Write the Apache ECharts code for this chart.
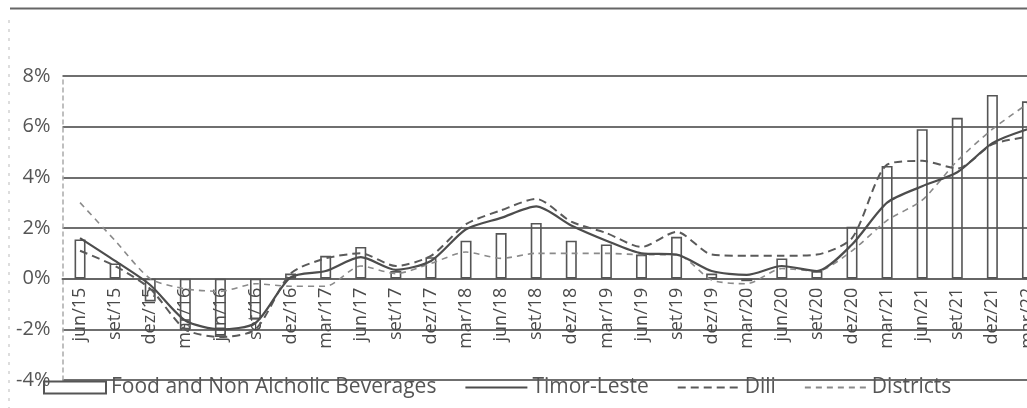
<!DOCTYPE html>
<html>
<head>
<meta charset="utf-8">
<script src="https://cdn.jsdelivr.net/npm/echarts@6/dist/echarts.min.js"></script>
<style>
  html, body { margin: 0; padding: 0; background: #fff; }
  #chart { width: 1027px; height: 408px; }
</style>
</head>
<body>
<div id="chart"></div>
<script>
// Quarterly periods (month/year, Portuguese month abbreviations)
const quarters = ['jun/15','set/15','dez/15','mar/16','jun/16','set/16','dez/16','mar/17','jun/17','set/17','dez/17',
  'mar/18','jun/18','set/18','dez/18','mar/19','jun/19','set/19','dez/19','mar/20','jun/20','set/20','dez/20',
  'mar/21','jun/21','set/21','dez/21','mar/22'];

// Annual inflation, %
const foodBeverages = [1.55, 0.6, -0.9, -2.0, -2.3, -1.6, 0.2, 0.9, 1.25, 0.3, 0.85, 1.5, 1.8, 2.2, 1.5, 1.35,
  0.95, 1.65, 0.2, -0.1, 0.8, 0.3, 2.05, 4.45, 5.9, 6.35, 7.25, 7.0];
const timorLeste = [1.6, 0.7, -0.25, -1.65, -2.0, -1.75, 0.05, 0.3, 0.85, 0.35, 0.7, 1.95, 2.4, 2.85, 2.1, 1.5,
  1.0, 0.95, 0.3, 0.15, 0.5, 0.3, 1.35, 3.0, 3.65, 4.2, 5.35, 5.9];
const dili = [1.1, 0.5, -0.4, -2.0, -2.3, -2.0, 0.2, 0.8, 1.0, 0.5, 0.9, 2.15, 2.7, 3.15, 2.25, 1.8,
  1.25, 1.85, 0.95, 0.9, 0.9, 0.95, 1.6, 4.5, 4.65, 4.35, 5.3, 5.6];
const districts = [3.0, 1.5, 0.0, -0.4, -0.5, -0.2, -0.3, -0.3, 0.5, 0.2, 0.6, 1.05, 0.8, 1.0, 1.0, 1.0,
  0.95, 0.95, -0.05, -0.2, 0.4, 0.3, 1.1, 2.3, 3.1, 4.65, 5.9, 6.9];

const FONT = '"Open Sans", "Liberation Sans", sans-serif';
const INK = '#555';

// plot area geometry and value range
const GRID_TOP = 76, GRID_BOTTOM = 28, CHART_H = 408;
const Y_MIN = -4, Y_MAX = 8;
const plotH = CHART_H - GRID_TOP - GRID_BOTTOM;
// the category axis sits on the 0% line
const zeroLift = plotH * (0 - Y_MIN) / (Y_MAX - Y_MIN);

const chart = echarts.init(document.getElementById('chart'), null, { renderer: 'canvas' });

const hiddenMarker = { opacity: 0 };

chart.setOption({
  animation: false,
  backgroundColor: '#fff',
  textStyle: { fontFamily: FONT, color: INK },
  grid: {
    left: 62.5, right: -18, top: GRID_TOP, bottom: GRID_BOTTOM,
    containLabel: false, outerBoundsMode: 'none'
  },
  legend: {
    left: 38, top: 372,
    itemWidth: 62, itemHeight: 12, itemGap: 28,
    textStyle: { fontFamily: FONT, fontSize: 21, color: INK },
    data: [
      { name: 'Food and Non Alcholic Beverages', icon: 'rect' },
      { name: 'Timor-Leste', itemStyle: hiddenMarker },
      { name: 'Dili', itemStyle: hiddenMarker },
      { name: 'Districts', itemStyle: hiddenMarker }
    ]
  },
  xAxis: {
    type: 'category',
    data: quarters,
    boundaryGap: true,
    offset: -zeroLift,
    axisLine: { onZero: false, lineStyle: { color: '#666', width: 2 } },
    axisTick: { show: false },
    axisLabel: {
      interval: 0, rotate: 90, margin: 9,
      fontFamily: FONT, fontSize: 18, color: '#4a4a4a'
    },
    splitLine: { show: false }
  },
  yAxis: {
    type: 'value',
    min: Y_MIN, max: Y_MAX, interval: 2,
    axisLine: { show: true, lineStyle: { color: '#aaa', width: 1.5, type: [4, 4] } },
    axisTick: { show: false },
    axisLabel: {
      formatter: v => v + '%',
      fontFamily: FONT, fontSize: 20, color: INK, margin: 12
    },
    splitLine: { lineStyle: { color: '#6f6f6f', width: 1.8 } }
  },
  series: [
    {
      name: 'Food and Non Alcholic Beverages',
      type: 'bar',
      data: foodBeverages,
      barWidth: 11,
      itemStyle: { color: 'rgba(255,255,255,0)', borderColor: '#555', borderWidth: 1.6 },
      z: 2
    },
    {
      name: 'Timor-Leste',
      type: 'line',
      data: timorLeste,
      smooth: 0.25,
      symbol: 'none',
      lineStyle: { color: '#4d4d4d', width: 2.2 },
      itemStyle: { color: '#4d4d4d' },
      z: 5
    },
    {
      name: 'Dili',
      type: 'line',
      data: dili,
      smooth: 0.25,
      symbol: 'none',
      lineStyle: { color: '#5a5a5a', width: 2, type: [8, 5] },
      itemStyle: { color: '#5a5a5a' },
      z: 4
    },
    {
      name: 'Districts',
      type: 'line',
      data: districts,
      smooth: 0.25,
      symbol: 'none',
      lineStyle: { color: '#8a8a8a', width: 1.6, type: [6, 5] },
      itemStyle: { color: '#8a8a8a' },
      z: 3
    }
  ],
  graphic: [
    // outer frame: top rule and faint left edge
    { type: 'line', shape: { x1: 10, y1: 8.5, x2: 1027, y2: 8.5 }, style: { stroke: '#666', lineWidth: 2 }, silent: true },
    { type: 'line', shape: { x1: 9, y1: 20, x2: 9, y2: 408 }, style: { stroke: '#bbb', lineWidth: 1, lineDash: [3, 6] }, silent: true }
  ]
});
</script>
</body>
</html>
